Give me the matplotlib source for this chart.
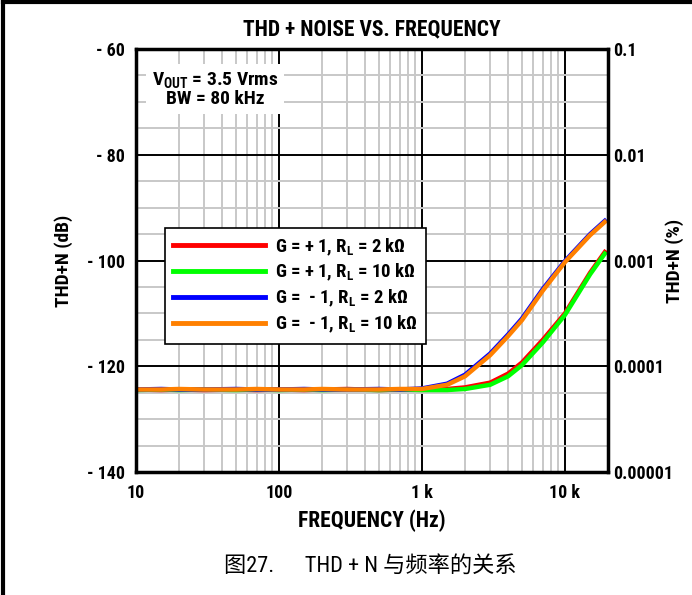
import matplotlib
matplotlib.use("Agg")
import matplotlib.pyplot as plt
from matplotlib.ticker import FixedLocator, NullFormatter
from matplotlib import font_manager
import numpy as np

# ---- data ----
freq = [10, 15, 20, 30, 50, 70, 100, 150, 200, 300, 500, 700, 1000, 1500,
        2000, 3000, 4000, 5000, 7000, 10000, 15000, 19000]
g_plus_2k = [-124.4, -124.5, -124.4, -124.5, -124.4, -124.5, -124.4, -124.5, -124.4, -124.3,
             -124.5, -124.4, -124.4, -124.3, -124.0, -123.1, -121.4, -119.3, -115.0, -110.0,
             -102.3, -98.4]
g_plus_10k = [-124.5, -124.4, -124.5, -124.4, -124.5, -124.4, -124.5, -124.4, -124.5, -124.4,
              -124.5, -124.4, -124.5, -124.5, -124.3, -123.5, -121.9, -119.8, -115.5, -110.3,
              -102.6, -98.7]
g_minus_2k = [-124.4, -124.3, -124.4, -124.4, -124.3, -124.4, -124.4, -124.3, -124.4, -124.4,
              -124.3, -124.4, -124.2, -123.3, -121.6, -117.6, -114.0, -111.0, -105.4, -100.1,
              -95.0, -92.5]
g_minus_10k = [-124.4, -124.4, -124.3, -124.4, -124.4, -124.3, -124.4, -124.4, -124.3, -124.4,
               -124.4, -124.3, -124.3, -123.5, -121.9, -117.9, -114.3, -111.3, -105.7, -100.3,
               -95.2, -92.7]

series_labels = ["G = + 1, R$_\\mathregular{L}$ = 2 kΩ", "G = + 1, R$_\\mathregular{L}$ = 10 kΩ",
                 "G =  - 1, R$_\\mathregular{L}$ = 2 kΩ", "G =  - 1, R$_\\mathregular{L}$ = 10 kΩ"]
series_colors = ["#ff0000", "#00ff00", "#0000ff", "#ff8000"]

x_ticks = [10, 100, 1000, 10000]
x_tick_labels = ["10", "100", "1 k", "10 k"]
y_ticks = [-140, -120, -100, -80, -60]
y_tick_labels = ["- 140", "- 120", "- 100", "- 80", "- 60"]
pct_tick_labels = ["0.00001", "0.0001", "0.001", "0.01", "0.1"]

# ---- fonts ----
avail = {f.name for f in font_manager.fontManager.ttflist}
narrow = "Liberation Sans"
for cand in ["Liberation Sans Narrow", "Roboto Condensed", "Open Sans Condensed",
             "DejaVu Sans Condensed"]:
    if cand in avail:
        narrow = cand
        break
plt.rcParams['font.family'] = [narrow, 'DejaVu Sans']
plt.rcParams['mathtext.fontset'] = 'custom'
plt.rcParams['mathtext.rm'] = narrow + ':bold'
plt.rcParams['mathtext.default'] = 'rm'
BOLD = dict(fontweight='bold')
TS = 13

W, H = 692, 595
fig = plt.figure(figsize=(W / 100, H / 100), dpi=100)
ax = fig.add_axes([136 / W, 1 - 472 / H, (608 - 136) / W, (472 - 49) / H])

ax.set_xscale('log')
ax.set_xlim(10, 20000)
ax.set_ylim(-140, -60)

# grid
ax.xaxis.set_major_locator(FixedLocator(x_ticks))
minor_x = [m * d for d in [10, 100, 1000, 10000] for m in range(2, 10) if m * d < 20000]
ax.xaxis.set_minor_locator(FixedLocator(minor_x))
ax.xaxis.set_minor_formatter(NullFormatter())
ax.yaxis.set_major_locator(FixedLocator(y_ticks))
ax.yaxis.set_minor_locator(FixedLocator(list(range(-135, -60, 5))))
ax.grid(which='minor', color='#c8c8c8', linewidth=1.4)
ax.grid(which='major', color='black', linewidth=1.4)
ax.set_axisbelow(True)
ax.tick_params(which='both', length=0)
ax.tick_params(axis='x', which='major', pad=9)
ax.tick_params(axis='y', which='major', pad=8)

ax.set_xticklabels(x_tick_labels, fontsize=TS, **BOLD)
ax.set_yticklabels(y_tick_labels, fontsize=TS, **BOLD)

for s in ax.spines.values():
    s.set_linewidth(2.5)
    s.set_zorder(3)

series = [g_plus_2k, g_plus_10k, g_minus_2k, g_minus_10k]
for y, lab, c in zip(series, series_labels, series_colors):
    ax.plot(freq, y, color=c, linewidth=3.2, label=lab)

# right axis in percent
ax2 = ax.twinx()
ax2.set_ylim(-140, -60)
ax2.yaxis.set_major_locator(FixedLocator(y_ticks))
ax2.set_yticklabels(pct_tick_labels, fontsize=TS, **BOLD)
ax2.tick_params(length=0, pad=4)
for s in ax2.spines.values():
    s.set_visible(False)

ax.set_xlabel("FREQUENCY (Hz)", fontsize=15.5, labelpad=5, **BOLD)
ax.set_ylabel("THD+N (dB)", fontsize=14, **BOLD)
ax.yaxis.set_label_coords((73 - 136) / 472, 0.5)
ax2.set_ylabel("THD+N (%)", fontsize=14, **BOLD)
ax2.yaxis.set_label_coords((665 - 136) / 472, 0.5)
ax.set_title("THD + NOISE VS. FREQUENCY", fontsize=15.5, pad=10, **BOLD)

ax.text(0.168, 0.905, "V$_\\mathregular{OUT}$ = 3.5 Vrms\nBW = 80 kHz", transform=ax.transAxes,
        ha='center', va='center', fontsize=14, linespacing=1.0,
        bbox=dict(facecolor='white', edgecolor='none', pad=4), zorder=1, **BOLD)

leg = ax.legend(loc='upper left', bbox_to_anchor=((165 - 136) / 472, (472 - 228) / 423),
                prop=dict(weight='bold', size=13.5), handlelength=4.9,
                frameon=True, fancybox=False, framealpha=1, edgecolor='black',
                borderpad=0.45, labelspacing=0.25, handletextpad=0.5, borderaxespad=0)
leg.get_frame().set_linewidth(1.2)
for l in leg.get_lines():
    l.set_linewidth(3.5)

fig.text(370 / W, 1 - 566 / H, "图27.      THD + N 与频率的关系", ha='center', va='center',
         fontsize=16, family=[narrow, 'Noto Sans CJK SC', 'DejaVu Sans'])

# outer frame lines (left and top)
fig.add_artist(plt.Line2D([3 / W, 3 / W], [0, 1 - 2 / H], transform=fig.transFigure,
                          color='black', linewidth=3))
fig.add_artist(plt.Line2D([3 / W, 1], [1 - 2 / H, 1 - 2 / H], transform=fig.transFigure,
                          color='black', linewidth=3))

fig.savefig("out.png", dpi=100)
